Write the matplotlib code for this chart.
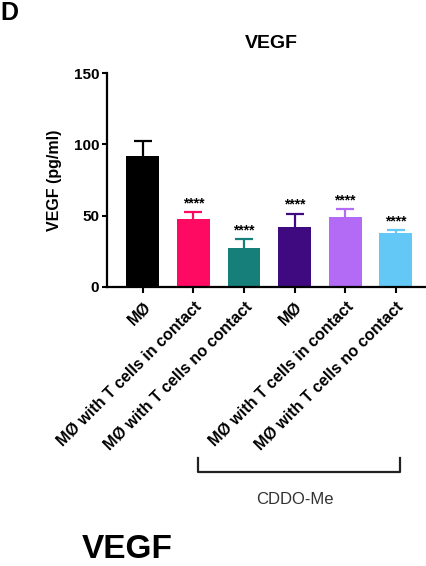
import numpy as np
import matplotlib
matplotlib.use('Agg')
import matplotlib.pyplot as plt
import matplotlib.transforms as mtransforms

plt.rcParams['font.family'] = ['Liberation Sans', 'DejaVu Sans']

# data
groups = ['MØ', 'MØ with T cells in contact', 'MØ with T cells no contact',
          'MØ', 'MØ with T cells in contact', 'MØ with T cells no contact']
vegf_mean = [91.5, 47.5, 27.0, 42.0, 49.0, 38.0]
vegf_sem = [11.0, 4.8, 6.5, 9.5, 5.5, 1.8]
signif = ['', '****', '****', '****', '****', '****']
bar_colors = ['#000000', '#FF0A63', '#167F7A', '#3F0A80', '#B36BF5', '#64C8F6']
yticks = [0, 50, 100, 150]
treatment = 'CDDO-Me'

fig = plt.figure(figsize=(4.26, 5.66), dpi=100)
ax = fig.add_axes([0.251, 0.493, 0.773, 0.378])

x = np.arange(len(groups))
ax.bar(x, vegf_mean, width=0.65, color=bar_colors, zorder=2)
# upper error bars only (no cap at bar top)
for xi, m, e, c in zip(x, vegf_mean, vegf_sem, bar_colors):
    ax.errorbar(xi, m, yerr=[[0], [e]], fmt='none', ecolor=c,
                elinewidth=1.6, capsize=0, zorder=3)
    ax.plot(xi, m + e, marker='_', ms=13, mew=1.6, color=c, zorder=3)

for xi, m, e, s in zip(x, vegf_mean, vegf_sem, signif):
    if s:
        ax.text(xi, m + e + 1.5, s, ha='center', va='bottom',
                fontsize=10, fontweight='bold')

ax.set_xlim(-0.71, 5.8)
ax.set_ylim(0, 150)
ax.set_yticks(yticks)
ax.set_xticks(x)
ax.set_xticklabels(groups, rotation=45, ha='right', va='top',
                   rotation_mode='anchor', fontsize=11.5, fontweight='bold')
for lab in ax.get_yticklabels():
    lab.set_fontweight('bold')
    lab.set_fontsize(11)
ax.tick_params(axis='both', direction='out', length=3.5, width=1.5, pad=2)
ax.tick_params(axis='x', length=4.5, pad=4)

for side in ['top', 'right']:
    ax.spines[side].set_visible(False)
for side in ['left', 'bottom']:
    ax.spines[side].set_linewidth(1.6)

ax.set_ylabel('VEGF (pg/ml)', fontsize=11.5, fontweight='bold')
ax.yaxis.set_label_coords(-0.135, 0.5)
ax.set_title('VEGF', fontsize=14, fontweight='bold', pad=18)

# treatment bracket under the labels
trans = mtransforms.blended_transform_factory(ax.transData, ax.transAxes)
ax.plot([1.1, 1.1, 5.08, 5.08], [-0.80, -0.865, -0.865, -0.80],
        color='#222222', lw=1.6, transform=trans, clip_on=False)
ax.text(3.0, -0.995, treatment, transform=trans, ha='center', va='center',
        fontsize=12, color='#333333')

fig.text(0.0, 0.999, 'D', fontsize=18, fontweight='bold', va='top', ha='left')
fig.text(82 / 426, 0.002, 'VEGF', fontsize=24, fontweight='bold',
         va='bottom', ha='left')

fig.savefig('out.png', dpi=100)
